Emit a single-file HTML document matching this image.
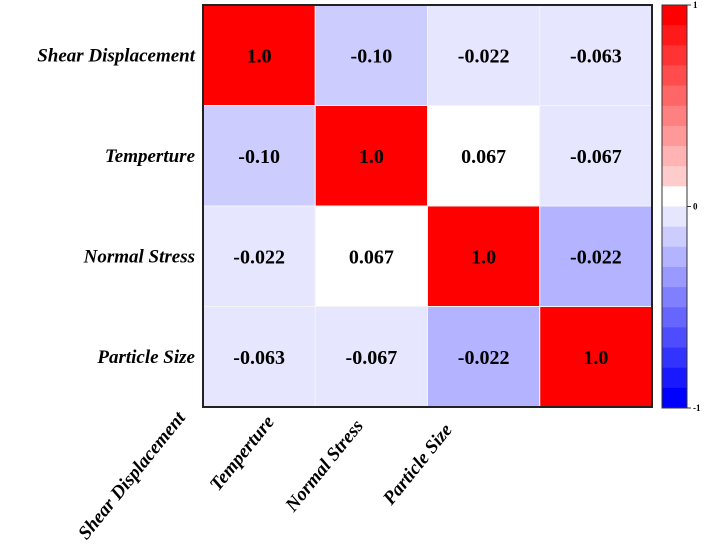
<!DOCTYPE html>
<html><head><meta charset="utf-8"><style>
html,body{margin:0;padding:0;background:#fff;width:726px;height:548px;overflow:hidden}
text{font-family:"Liberation Serif",serif;font-weight:bold}
</style></head><body>
<svg id="chart" width="726" height="548" xmlns="http://www.w3.org/2000/svg"></svg>
<script>
const categories = ["Shear Displacement","Temperture","Normal Stress","Particle Size"];
const labelValues = [
  ["1.0","-0.10","-0.022","-0.063"],
  ["-0.10","1.0","0.067","-0.067"],
  ["-0.022","0.067","1.0","-0.022"],
  ["-0.063","-0.067","-0.022","1.0"]
];
const colorValues = [
  [1.0,-0.15,-0.022,-0.063],
  [-0.15,1.0,0.067,-0.067],
  [-0.022,0.067,1.0,-0.25],
  [-0.063,-0.067,-0.25,1.0]
];
const colorbarTicks = [1,0,-1];

const NS="http://www.w3.org/2000/svg";
const svg=document.getElementById('chart');
const L=203,T=5,R=652,B=407;
const n=categories.length;
const cw=(R-L)/n, ch=(B-T)/n;
const xPos=i=>L+i*cw, yPos=i=>T+i*ch;
function cmap(v){
  let b=Math.floor(v*10); if(b>=10)b=9; if(b<-10)b=-10;
  let m=b>=0?(b+1)/10:b/10;
  if(v>=0&&b===0&&v<0.1) m=0;
  let t=Math.min(1,Math.abs(m));
  let c=Math.round(255*(1-t));
  return v>=0?`rgb(255,${c},${c})`:`rgb(${c},${c},255)`;
}
function mk(tag,attrs){const e=document.createElementNS(NS,tag);for(const k in attrs)e.setAttribute(k,attrs[k]);svg.appendChild(e);return e;}
for(let r=0;r<n;r++)for(let c=0;c<n;c++){
  const rect=mk('rect',{x:xPos(c),y:yPos(r),width:cw,height:ch,fill:cmap(colorValues[r][c]),stroke:'#f4f4f4','stroke-width':1});
  
  
  const t=mk('text',{x:xPos(c)+cw/2,y:yPos(r)+ch/2+7,'text-anchor':'middle','font-size':20,fill:'#000'});
  t.textContent=labelValues[r][c];
  
  
}
const fr=mk('rect',{x:L,y:T,width:R-L,height:B-T,fill:'none',stroke:'#222','stroke-width':2});


for(let i=0;i<n;i++){
  const t=mk('text',{x:195,y:yPos(i)+ch/2+6,'text-anchor':'end','font-size':19,'font-style':'italic',fill:'#000'});
  t.textContent=categories[i];
  
  
  const ax=186+i*89, ay=418+i*4;
  const u=mk('text',{x:ax,y:ay,'text-anchor':'end','font-size':19,'font-style':'italic',fill:'#000',transform:`rotate(-51 ${ax} ${ay})`});
  u.textContent=categories[i];
  
  
}
// colorbar
const cbL=662,cbR=687,cbT=5,cbB=408,steps=20;
const cbY=v=>cbT+(1-v)/2*(cbB-cbT);
for(let k=0;k<steps;k++){
  const v=1-(k+0.5)*(2/steps);
  const r=mk('rect',{x:cbL,y:cbY(1-k*2/steps),width:cbR-cbL,height:(cbB-cbT)/steps+0.5,fill:cmap(v)});
  
  
}
const cbf=mk('rect',{x:cbL,y:cbT,width:cbR-cbL,height:cbB-cbT,fill:'none',stroke:'#333','stroke-width':1});


colorbarTicks.forEach(v=>{
  const y=cbY(v);
  const l=mk('line',{x1:cbR,x2:cbR+4,y1:y,y2:y,stroke:'#333'});
  
  
  const t=mk('text',{x:cbR+6,y:y+3,'font-size':9,fill:'#000'});
  t.textContent=String(v);
  
  
});
</script>
</body></html>
